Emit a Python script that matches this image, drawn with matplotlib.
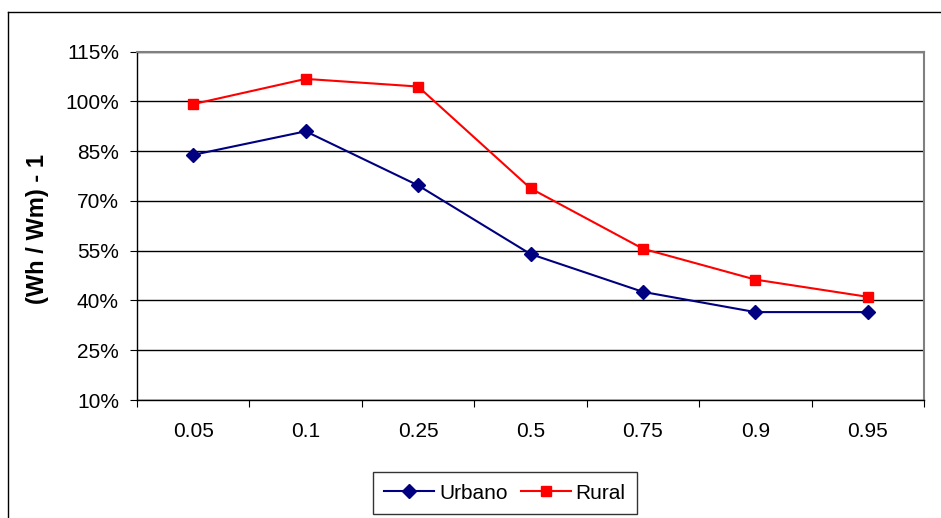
import numpy as np
import matplotlib
matplotlib.use("Agg")
import matplotlib.pyplot as plt
from matplotlib.lines import Line2D
from matplotlib.ticker import FixedLocator, FuncFormatter

plt.rcParams['font.family'] = ['Liberation Sans', 'DejaVu Sans']

categories = ["0.05", "0.1", "0.25", "0.5", "0.75", "0.9", "0.95"]
urbano = [83.9, 91.0, 74.7, 54.0, 42.6, 36.5, 36.5]
rural = [99.2, 106.8, 104.5, 73.8, 55.6, 46.3, 41.1]
yticks = [10, 25, 40, 55, 70, 85, 100, 115]

W, H = 941, 518
fig = plt.figure(figsize=(W / 100, H / 100), dpi=100)
ax = fig.add_axes([137 / W, 1 - 400 / H, (924 - 137) / W, (400 - 51.7) / H])

x = np.arange(len(categories))
ax.plot(x, urbano, color="#000080", lw=1.5, marker="D", ms=7.5, label="Urbano")
ax.plot(x, rural, color="#ff0000", lw=1.5, marker="s", ms=7.5, label="Rural")

ax.set_xlim(-0.5, len(categories) - 0.5)
ax.set_ylim(10, 115)
ax.set_yticks(yticks)
ax.yaxis.set_major_formatter(FuncFormatter(lambda v, p: "%d%%" % v))
ax.grid(axis="y", color="black", lw=1)
ax.set_axisbelow(True)

# category labels at centres, ticks on the boundaries
ax.xaxis.set_major_locator(FixedLocator(np.arange(len(categories) + 1) - 0.5))
ax.xaxis.set_minor_locator(FixedLocator(x))
ax.set_xticklabels([""] * (len(categories) + 1))
ax.set_xticklabels(categories, minor=True)
ax.tick_params(axis="x", which="minor", length=0, pad=16, labelsize=15)
ax.tick_params(axis="x", which="major", length=5, color="black")
ax.tick_params(axis="y", length=5, labelsize=15, pad=8)

for s in ["top", "right"]:
    ax.spines[s].set_color("#808080")
    ax.spines[s].set_linewidth(1.5)
for s in ["left", "bottom"]:
    ax.spines[s].set_color("black")
    ax.spines[s].set_linewidth(1)

fig.text(38 / W, 1 - 229 / H, "(Wh / Wm) - 1", rotation=90, fontsize=17,
         fontweight="bold", ha="center", va="center")

leg = fig.legend(loc="lower center", bbox_to_anchor=(505 / W, 4 / H), ncol=2,
                 fontsize=15, frameon=True, fancybox=False, edgecolor="black",
                 borderpad=0.55, handlelength=2.4, columnspacing=0.6, handletextpad=0.25,
                 borderaxespad=0)
leg.get_frame().set_linewidth(1)

# outer chart border
fig.add_artist(Line2D([8 / W, 8 / W], [0, 1 - 12 / H], color="black", lw=1))
fig.add_artist(Line2D([8 / W, 1], [1 - 12 / H, 1 - 12 / H], color="black", lw=1))

fig.savefig("out.png", dpi=100)
